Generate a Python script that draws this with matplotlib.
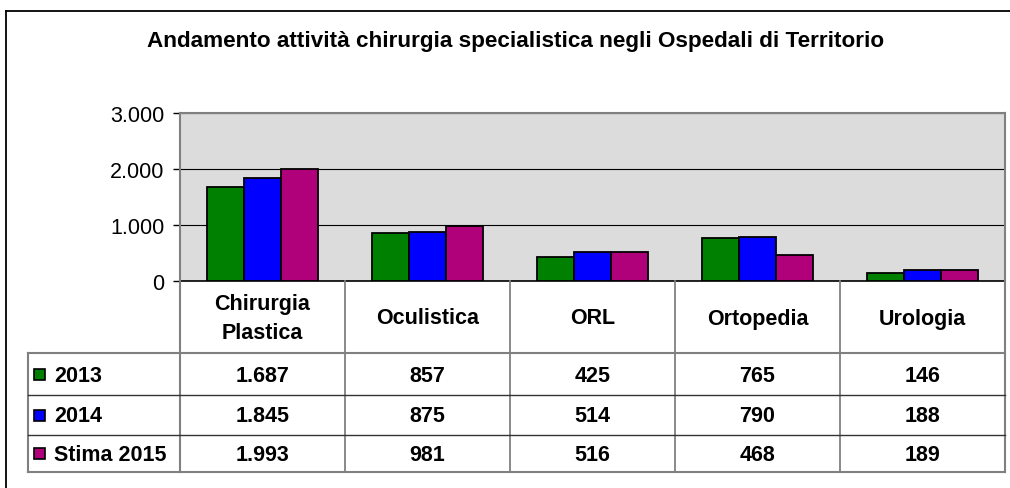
import matplotlib
matplotlib.use("Agg")
import matplotlib.pyplot as plt
from matplotlib.patches import Rectangle

title = "Andamento attività chirurgia specialistica negli Ospedali di Territorio"
categories = ["Chirurgia\nPlastica", "Oculistica", "ORL", "Ortopedia", "Urologia"]
series_names = ["2013", "2014", "Stima 2015"]
v2013 = [1687, 857, 425, 765, 146]
v2014 = [1845, 875, 514, 790, 188]
v2015 = [1993, 981, 516, 468, 189]
series_values = [v2013, v2014, v2015]
colors = ["#008000", "#0000FF", "#B0007A"]
yticks = [0, 1000, 2000, 3000]


def fmt(v):
    return f"{v:,}".replace(",", ".")


W, H = 1010, 489
fig = plt.figure(figsize=(W / 100, H / 100), dpi=100)
plt.rcParams['font.family'] = ['Liberation Sans', 'DejaVu Sans']

# plot area in pixels
px0, px1, py0, py1 = 180, 1005, 114, 282
ax = fig.add_axes([px0 / W, 1 - py1 / H, (px1 - px0) / W, (py1 - py0) / H])
ax.set_facecolor("#DCDCDC")
n = len(categories)
bw = 0.225
for i, (vals, c) in enumerate(zip(series_values, colors)):
    xs = [k + (i - 1) * bw for k in range(n)]
    ax.bar(xs, vals, width=bw, color=c, edgecolor="black", linewidth=1.3, zorder=3)
ax.set_xlim(-0.5, n - 0.5)
ax.set_ylim(0, 3000)
ax.set_yticks(yticks)
ax.set_yticklabels([fmt(t) for t in yticks], fontsize=15.5)
ax.set_xticks([])
ax.yaxis.grid(True, color="black", linewidth=0.8, zorder=1)
ax.tick_params(axis="y", direction="out", length=5, width=1, pad=6)
for s in ["top", "right", "left"]:
    ax.spines[s].set_color("#808080")
    ax.spines[s].set_linewidth(1.5)
ax.spines["bottom"].set_color("black")
ax.spines["bottom"].set_linewidth(1.2)

# overlay for frame, title, and data table
ov = fig.add_axes([0, 0, 1, 1], zorder=5)
ov.set_xlim(0, W)
ov.set_ylim(H, 0)
ov.axis("off")
ov.patch.set_alpha(0)

# outer frame
ov.plot([6, 6], [12, H + 5], color="black", lw=1.3, clip_on=False)
ov.plot([6, W + 5], [12, 12], color="black", lw=1.3, clip_on=False)

ov.text(516, 42, title, ha="center", va="center", fontsize=16.2, fontweight="bold")

# table geometry
col_w = (px1 - px0) / n
col_edges = [px0 + k * col_w for k in range(n + 1)]
hdr_bot = 354
row_edges = [354, 396, 436, 473]
tab_left = 28
grey = "#808080"
dark = "#333333"

for k, xe in enumerate(col_edges):
    outer = k == 0 or k == n
    ov.plot([xe, xe], [py1, row_edges[-1]], color=grey, lw=1.5 if outer else 1.3)
ov.plot([tab_left, tab_left], [row_edges[0], row_edges[-1]], color=grey, lw=1.5)
for j, ye in enumerate(row_edges):
    outer = j == 0 or j == len(row_edges) - 1
    ov.plot([tab_left, px1], [ye, ye], color=grey if outer else dark, lw=1.5 if outer else 1.0)

for k, cat in enumerate(categories):
    cx = (col_edges[k] + col_edges[k + 1]) / 2
    ov.text(cx, (py1 + hdr_bot) / 2 + 1, cat, ha="center", va="center", fontsize=15.5,
            fontweight="bold", linespacing=1.5)

for j, (name, vals, c) in enumerate(zip(series_names, series_values, colors)):
    cy = (row_edges[j] + row_edges[j + 1]) / 2
    ov.add_patch(Rectangle((34, cy - 5.5), 11, 11, facecolor=c, edgecolor="black", lw=1.2))
    ov.text(54, cy + 1, name, ha="left", va="center", fontsize=15.5, fontweight="bold")
    for k, v in enumerate(vals):
        cx = (col_edges[k] + col_edges[k + 1]) / 2
        ov.text(cx, cy + 1, fmt(v), ha="center", va="center", fontsize=15.5, fontweight="bold")

fig.savefig("out.png", dpi=100)
